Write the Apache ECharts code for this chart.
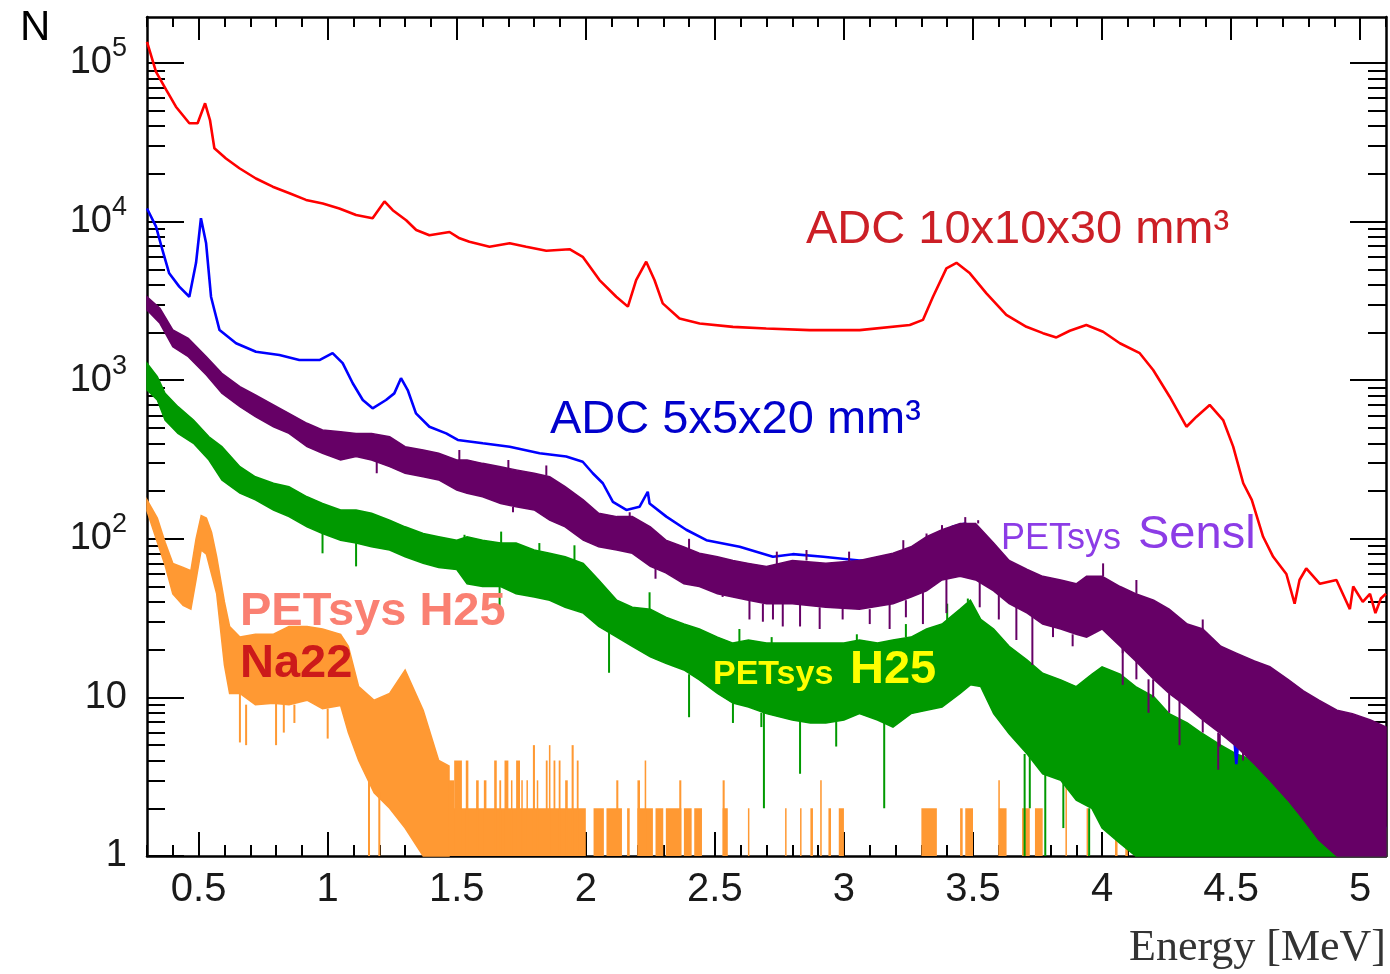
<!DOCTYPE html>
<html>
<head>
<meta charset="utf-8">
<title>Energy spectra</title>
<script src="https://cdn.jsdelivr.net/npm/echarts@6/dist/echarts.min.js"></script>
<style>
  html, body { margin: 0; padding: 0; background: #fff; }
  #chart { width: 1390px; height: 974px; }
</style>
</head>
<body>
<div id="chart"></div>
<script>
// axis ticks
const xMajorTicks = [0.5, 1, 1.5, 2, 2.5, 3, 3.5, 4, 4.5, 5];
const xMinorTicks = [0.3, 0.4, 0.6, 0.7, 0.8, 0.9, 1.1, 1.2, 1.3, 1.4, 1.6, 1.7, 1.8, 1.9,
  2.1, 2.2, 2.3, 2.4, 2.6, 2.7, 2.8, 2.9, 3.1, 3.2, 3.3, 3.4, 3.6, 3.7, 3.8, 3.9,
  4.1, 4.2, 4.3, 4.4, 4.6, 4.7, 4.8, 4.9, 5.1];
const yMajorTicks = [1, 10, 100, 1000, 10000, 100000];
const yMinorTicks = [2, 3, 4, 5, 6, 7, 8, 9, 20, 30, 40, 50, 60, 70, 80, 90,
  200, 300, 400, 500, 600, 700, 800, 900, 2000, 3000, 4000, 5000, 6000, 7000, 8000, 9000,
  20000, 30000, 40000, 50000, 60000, 70000, 80000, 90000];

// ADC 10x10x30 mm3 : [energy MeV, counts]
const adc10 = [[0.30, 136000], [0.335, 88000], [0.374, 68000], [0.412, 53000], [0.464, 41700],
  [0.496, 41700], [0.525, 55700], [0.544, 43700], [0.561, 29000], [0.606, 25000], [0.658, 21700],
  [0.722, 18700], [0.787, 16600], [0.852, 15100], [0.916, 13700], [0.981, 13000], [1.045, 12100],
  [1.110, 11000], [1.174, 10500], [1.220, 13400], [1.252, 11800], [1.304, 10200], [1.343, 8850],
  [1.394, 8200], [1.472, 8600], [1.511, 7850], [1.549, 7470], [1.627, 6950], [1.705, 7300],
  [1.769, 6950], [1.847, 6550], [1.937, 6700], [1.988, 6000], [2.053, 4280], [2.118, 3360],
  [2.163, 2910], [2.195, 4280], [2.234, 5590], [2.266, 4280], [2.298, 3050], [2.363, 2450],
  [2.441, 2280], [2.570, 2170], [2.699, 2120], [2.867, 2070], [3.061, 2070], [3.255, 2230],
  [3.306, 2400], [3.345, 3360], [3.397, 5070], [3.436, 5500], [3.488, 4720], [3.552, 3530],
  [3.629, 2580], [3.707, 2170], [3.771, 1980], [3.823, 1860], [3.875, 2050], [3.939, 2230],
  [4.004, 2020], [4.069, 1710], [4.146, 1480], [4.198, 1160], [4.262, 787], [4.327, 509],
  [4.366, 589], [4.417, 698], [4.469, 561], [4.508, 381], [4.547, 224], [4.580, 176],
  [4.624, 103], [4.663, 77], [4.714, 60], [4.746, 39], [4.765, 55], [4.791, 65], [4.844, 52],
  [4.908, 55], [4.960, 36], [4.973, 50], [5.010, 40], [5.038, 45], [5.059, 34], [5.080, 42],
  [5.10, 45]];

// ADC 5x5x20 mm3 : [energy MeV, counts]
const adc5 = [[0.30, 12100], [0.335, 9300], [0.360, 6600], [0.386, 4720], [0.425, 3890],
  [0.464, 3360], [0.490, 5500], [0.509, 10500], [0.529, 7300], [0.548, 3360], [0.561, 2770],
  [0.581, 2070], [0.645, 1710], [0.722, 1510], [0.813, 1440], [0.890, 1340], [0.968, 1340],
  [1.019, 1480], [1.058, 1280], [1.097, 957], [1.136, 750], [1.174, 665], [1.226, 750],
  [1.258, 826], [1.284, 1030], [1.310, 867], [1.342, 618], [1.394, 509], [1.459, 462],
  [1.504, 420], [1.601, 400], [1.705, 381], [1.821, 346], [1.924, 330], [1.988, 306],
  [2.027, 259], [2.066, 224], [2.105, 171], [2.157, 152], [2.208, 159], [2.240, 198],
  [2.247, 167], [2.312, 138], [2.389, 114], [2.467, 98], [2.596, 89], [2.725, 77], [2.802, 80],
  [2.920, 77], [3.060, 73], [3.190, 73], [3.320, 94], [3.420, 119], [3.470, 125], [3.550, 94],
  [3.640, 70], [3.770, 55], [3.900, 48], [4.000, 45], [4.100, 38], [4.200, 30], [4.300, 22],
  [4.400, 15], [4.500, 10], [4.520, 3.8], [4.540, 9], [4.600, 7], [4.700, 5], [4.800, 3.5],
  [4.900, 2.5], [5.000, 2], [5.100, 1.5]];

// PETsys SensL : [energy MeV, low, high]
const senslBand = [[0.30, 2770, 3360], [0.35, 2285, 2840], [0.40, 1627, 2073], [0.46, 1407, 1837],
  [0.53, 1078, 1407], [0.59, 827, 1106], [0.66, 681, 910], [0.72, 589, 807], [0.79, 509, 698],
  [0.85, 462, 618], [0.92, 381, 535], [0.98, 346, 485], [1.05, 314, 473], [1.11, 330, 462],
  [1.17, 314, 462], [1.24, 285, 440], [1.30, 259, 381], [1.37, 246, 363], [1.43, 235, 346],
  [1.50, 203, 314], [1.54, 194, 314], [1.60, 184, 299], [1.67, 167, 285], [1.73, 159, 272],
  [1.80, 152, 259], [1.86, 131, 246], [1.92, 119, 213], [1.99, 98, 176], [2.05, 89, 145],
  [2.12, 85, 138], [2.18, 81, 138], [2.25, 67, 119], [2.31, 61, 98], [2.38, 52, 89],
  [2.44, 50, 81], [2.51, 45, 77], [2.57, 43, 73], [2.63, 41, 70], [2.70, 39, 67], [2.80, 39, 73],
  [2.93, 37, 70], [3.06, 36, 73], [3.19, 39, 81], [3.26, 43, 89], [3.32, 47, 103], [3.38, 55, 114],
  [3.45, 58, 125], [3.51, 55, 125], [3.58, 47, 94], [3.64, 39, 73], [3.71, 34, 64], [3.77, 29, 58],
  [3.84, 27, 55], [3.90, 25, 52], [3.94, 24, 58], [4.00, 27, 58], [4.07, 21, 50], [4.13, 17, 45],
  [4.20, 13, 41], [4.26, 10.6, 36], [4.33, 8.7, 29], [4.39, 7.2, 27], [4.46, 5.9, 21],
  [4.52, 4.9, 19], [4.59, 3.8, 17], [4.65, 3, 15.6], [4.72, 2.25, 13], [4.78, 1.7, 11],
  [4.84, 1.26, 9.6], [4.91, 1, 8.3], [4.97, 1, 7.9], [5.04, 1, 7.2], [5.10, 1, 6.5]];
// PETsys SensL single-bin excursions : [energy MeV, from, to]
const senslSpikes = [[1.19, 314, 259], [1.51, 300, 363], [1.70, 260, 314], [1.718, 159, 147],
  [1.847, 250, 290], [2.17, 138, 147], [2.27, 67, 56], [2.40, 85, 100], [2.53, 45, 43],
  [2.634, 41, 31], [2.686, 39, 30], [2.725, 39, 31], [2.74, 67, 83], [2.763, 39, 28],
  [2.83, 39, 28], [2.855, 73, 85], [2.906, 37, 27], [2.995, 37, 31], [3.02, 72, 83],
  [3.10, 36, 29], [3.177, 39, 27], [3.23, 85, 98], [3.24, 41, 32], [3.306, 46, 29],
  [3.32, 100, 108], [3.38, 112, 122], [3.397, 56, 34], [3.47, 125, 137], [3.52, 125, 131],
  [3.526, 55, 37], [3.60, 45, 31], [3.668, 39, 23], [3.73, 34, 16], [3.81, 28, 24],
  [3.886, 25, 21], [4.004, 58, 70], [4.08, 21, 12], [4.08, 21, 19], [4.133, 45, 55],
  [4.133, 17, 13], [4.18, 13, 8], [4.198, 13, 10], [4.26, 10.6, 8], [4.30, 10, 5],
  [4.39, 27, 31], [4.39, 7.2, 6], [4.45, 6, 3.5], [4.456, 5.9, 4.9], [4.546, 4.5, 4]];

// PETsys H25 : [energy MeV, low, high]
const h25Band = [[0.30, 867, 1278], [0.34, 750, 1052], [0.37, 561, 827], [0.42, 462, 681],
  [0.48, 400, 561], [0.54, 314, 440], [0.59, 235, 381], [0.66, 194, 285], [0.72, 176, 246],
  [0.79, 152, 224], [0.85, 138, 213], [0.92, 119, 184], [0.98, 108, 167], [1.05, 98, 152],
  [1.11, 94, 152], [1.17, 89, 145], [1.24, 85, 131], [1.30, 77, 119], [1.37, 70, 108],
  [1.43, 66, 103], [1.50, 64, 98], [1.54, 52, 103], [1.60, 50, 98], [1.67, 50, 94],
  [1.73, 45, 94], [1.80, 43, 85], [1.86, 41, 81], [1.92, 37, 77], [1.99, 34, 70], [2.05, 28, 55],
  [2.12, 24, 41], [2.18, 21, 37], [2.25, 18, 36], [2.31, 16.4, 32], [2.38, 14.9, 29],
  [2.44, 12.9, 27], [2.51, 10.6, 24], [2.57, 9.2, 22], [2.63, 8.7, 23], [2.70, 7.9, 22],
  [2.80, 7.2, 22], [2.87, 6.9, 22], [2.93, 6.9, 22], [3.00, 7.2, 22], [3.06, 7.9, 23],
  [3.13, 7.2, 22], [3.19, 6.5, 23], [3.26, 7.9, 24], [3.32, 8.3, 27], [3.38, 8.7, 29],
  [3.45, 10.6, 36], [3.49, 12, 41], [3.53, 11.7, 31], [3.58, 7.9, 27], [3.64, 5.9, 21],
  [3.71, 4.4, 17.2], [3.77, 3.3, 14.2], [3.84, 3.0, 12.9], [3.90, 2.25, 11.7], [3.96, 2, 14],
  [4.00, 1.5, 15.6], [4.07, 1.2, 14], [4.13, 1, 11.7], [4.20, 1, 10.1], [4.26, 1, 7.9],
  [4.33, 1, 6.9], [4.39, 1, 5.9], [4.46, 1, 5], [4.52, 1, 4.4], [4.59, 1, 4], [4.65, 1, 3.5],
  [4.72, 1, 3], [4.78, 1, 2.5], [4.84, 1, 2.2], [4.91, 1, 2], [4.97, 1, 1.8], [5.04, 1, 1.6],
  [5.10, 1, 1.5]];
const h25Spikes = [[0.98, 108, 81], [1.11, 94, 67], [1.53, 100, 106], [1.666, 50, 36],
  [1.672, 94, 111], [1.82, 84, 94], [1.956, 73, 91], [2.09, 30, 14.3], [2.247, 36, 46],
  [2.40, 14, 7.5], [2.57, 9.2, 6.9], [2.595, 22, 27], [2.68, 8, 6.5], [2.69, 8, 2],
  [2.72, 22, 24], [2.83, 7.2, 3.3], [2.97, 7, 4.9], [3.05, 22, 25], [3.156, 7, 2],
  [3.24, 24, 29], [3.40, 29, 39], [3.48, 40, 42], [3.70, 4.4, 1], [3.72, 4.4, 2], [3.78, 3.3, 1],
  [3.85, 3, 1.5], [3.95, 2, 1]];

// Na22 with PETsys H25 : [energy MeV, low, high] then sparse bins [from, to, counts]
const na22Band = [[0.30, 150, 176], [0.34, 95, 135], [0.37, 68, 95], [0.40, 45, 70],
  [0.44, 38, 66], [0.47, 36, 63], [0.49, 55, 100], [0.51, 85, 140], [0.53, 80, 135],
  [0.55, 60, 110], [0.57, 45, 77], [0.60, 16, 40], [0.62, 10.6, 28], [0.66, 10.6, 24],
  [0.72, 9, 25], [0.79, 9.2, 25], [0.85, 9, 28], [0.92, 9.6, 28], [0.98, 8.5, 27],
  [1.05, 8.9, 25], [1.08, 6, 21], [1.12, 4, 11.7], [1.18, 2.5, 9.6], [1.24, 2, 10.6],
  [1.30, 1.5, 14.9], [1.37, 1, 8.3], [1.43, 1, 4], [1.47, 1, 3.7]];
const na22Spikes = [[0.66, 10.6, 5.2], [0.684, 9, 5], [0.80, 9.2, 5], [0.83, 9, 6],
  [0.871, 9, 6.9], [1.00, 8.5, 5.5], [1.16, 3, 1], [1.20, 2.5, 1]];
const na22Bins = [[1.47, 2.00, 2], [1.47, 1.49, 3], [1.49, 1.52, 4], [1.535, 1.545, 4],
  [1.575, 1.585, 3], [1.605, 1.615, 3], [1.645, 1.655, 4], [1.665, 1.672, 3], [1.685, 1.70, 4],
  [1.71, 1.715, 3], [1.73, 1.745, 4], [1.75, 1.755, 3], [1.77, 1.775, 3], [1.795, 1.803, 5],
  [1.81, 1.815, 3], [1.845, 1.852, 4], [1.857, 1.863, 5], [1.875, 1.882, 4], [1.895, 1.902, 4],
  [1.92, 1.93, 3], [1.945, 1.953, 5], [1.965, 1.972, 4], [2.03, 2.07, 2], [2.08, 2.14, 2],
  [2.118, 2.126, 3], [2.16, 2.17, 2], [2.20, 2.26, 2], [2.20, 2.21, 3], [2.228, 2.234, 4],
  [2.27, 2.30, 2], [2.31, 2.37, 2], [2.362, 2.37, 3], [2.38, 2.41, 2], [2.42, 2.45, 2],
  [2.53, 2.55, 2], [2.53, 2.538, 3], [2.628, 2.633, 2], [2.772, 2.776, 2], [2.83, 2.834, 2],
  [2.87, 2.88, 2], [2.908, 2.914, 3], [2.94, 2.95, 2], [2.98, 3.0, 2], [3.30, 3.36, 2],
  [3.45, 3.46, 2], [3.47, 3.50, 2], [3.60, 3.63, 2], [3.598, 3.604, 3], [3.69, 3.72, 2],
  [3.74, 3.77, 2], [3.858, 3.864, 3], [3.94, 3.944, 2], [4.05, 4.06, 2], [4.09, 4.10, 2],
  [4.30, 4.303, 2]];

const FONT = '"Liberation Sans", Arial, sans-serif';
const chart = echarts.init(document.getElementById('chart'), null, { renderer: 'canvas' });

function band(name, rows, color, z) {
  return {
    type: 'custom', name, z,
    data: rows,
    encode: { x: 0, y: [1, 2] },
    renderItem(params, api) {
      if (params.dataIndex !== 0) return null;
      const upper = rows.map((r) => api.coord([r[0], r[2]]));
      const lower = rows.map((r) => api.coord([r[0], r[1]])).reverse();
      return {
        type: 'polygon',
        shape: { points: upper.concat(lower) },
        style: { fill: color, stroke: color, lineWidth: 1.5 },
      };
    },
  };
}

function spikes(name, rows, color, z) {
  return {
    type: 'custom', name, z,
    data: rows,
    encode: { x: 0, y: [1, 2] },
    renderItem(params, api) {
      const a = api.coord([api.value(0), api.value(1)]);
      const b = api.coord([api.value(0), api.value(2)]);
      return {
        type: 'line',
        shape: { x1: a[0], y1: a[1], x2: b[0], y2: b[1] },
        style: { stroke: color, lineWidth: 2 },
      };
    },
  };
}

function bins(name, rows, color, z) {
  return {
    type: 'custom', name, z,
    data: rows,
    encode: { x: [0, 1], y: 2 },
    renderItem(params, api) {
      const a = api.coord([api.value(0), api.value(2)]);
      const b = api.coord([api.value(1), 1]);
      return {
        type: 'rect',
        shape: { x: a[0], y: a[1], width: Math.max(b[0] - a[0], 1.5), height: b[1] - a[1] },
        style: { fill: color },
      };
    },
  };
}

function line(name, rows, color, z) {
  return {
    type: 'line', name, z,
    data: rows,
    showSymbol: false,
    lineStyle: { width: 2.6, color },
    itemStyle: { color },
  };
}

function label(text, x, y, size, color, extra) {
  return {
    type: 'text', x, y, z: 100,
    style: Object.assign({ text, fontSize: size, fontFamily: FONT, fill: color, verticalAlign: 'middle' }, extra || {}),
  };
}

const frame = { show: true, lineStyle: { color: '#000', width: 2.5 } };
const tick = (values, length) => ({
  show: true, inside: true, length, customValues: values,
  lineStyle: { color: '#000', width: 2 },
});
const xBase = { type: 'value', min: 0.3, max: 5.1, splitLine: { show: false } };
const yBase = { type: 'log', logBase: 10, min: 1, max: 195000, splitLine: { show: false } };

chart.setOption({
  animation: false,
  backgroundColor: '#fff',
  grid: { left: 147, right: 4, top: 17, bottom: 118 },
  xAxis: [
    Object.assign({}, xBase, {
      position: 'bottom', axisLine: frame, axisTick: tick(xMajorTicks, 24),
      axisLabel: {
        customValues: xMajorTicks, fontSize: 40, fontFamily: FONT, color: '#1a1a1a', margin: 14,
        formatter: (v) => String(v),
      },
    }),
    Object.assign({}, xBase, {
      position: 'bottom', axisLine: { show: false }, axisTick: tick(xMinorTicks, 11),
      axisLabel: { show: false },
    }),
    Object.assign({}, xBase, {
      position: 'top', axisLine: frame, axisTick: tick(xMajorTicks, 23), axisLabel: { show: false },
    }),
    Object.assign({}, xBase, {
      position: 'top', axisLine: { show: false }, axisTick: tick(xMinorTicks, 10),
      axisLabel: { show: false },
    }),
  ],
  yAxis: [
    Object.assign({}, yBase, {
      position: 'left', axisLine: frame, axisTick: tick(yMajorTicks, 37),
      axisLabel: {
        customValues: yMajorTicks, margin: 20, color: '#1a1a1a',
        formatter: (v) => (v < 100 ? '{b|' + v + '}' : '{b|10}{s|' + Math.round(Math.log10(v)) + '}'),
        rich: {
          b: { fontSize: 38, fontFamily: FONT, color: '#1a1a1a' },
          s: { fontSize: 27, fontFamily: FONT, color: '#1a1a1a', padding: [0, 0, 28, 0] },
        },
      },
    }),
    Object.assign({}, yBase, {
      position: 'left', axisLine: { show: false }, axisTick: tick(yMinorTicks, 18),
      axisLabel: { show: false },
    }),
    Object.assign({}, yBase, {
      position: 'right', axisLine: frame, axisTick: tick(yMajorTicks, 36), axisLabel: { show: false },
    }),
    Object.assign({}, yBase, {
      position: 'right', axisLine: { show: false }, axisTick: tick(yMinorTicks, 18),
      axisLabel: { show: false },
    }),
  ],
  series: [
    band('Na22 PETsys H25', na22Band, '#ff9933', 1),
    spikes('Na22 spikes', na22Spikes, '#ff9933', 1),
    bins('Na22 bins', na22Bins, '#ff9933', 1),
    band('PETsys H25', h25Band, '#009900', 2),
    spikes('PETsys H25 spikes', h25Spikes, '#009900', 2),
    line('ADC 5x5x20', adc5, '#0000ff', 3),
    band('PETsys SensL', senslBand, '#660066', 4),
    spikes('PETsys SensL spikes', senslSpikes, '#660066', 4),
    line('ADC 10x10x30', adc10, '#ff0000', 5),
  ],
  graphic: {
    elements: [
      label('N', 20, 28, 42, '#000'),
      label('Energy [MeV]', 1386, 948, 44, '#333',
        { fontFamily: '"Liberation Serif", "Times New Roman", serif', align: 'right' }),
      label('ADC 10x10x30 mm³', 806, 230, 47, '#cc1f26'),
      label('ADC 5x5x20 mm³', 550, 420, 47, '#0000cc'),
      label('PETsys', 1001, 539, 36, '#8c3ce6'),
      label('Sensl', 1138, 535, 47, '#8c3ce6'),
      label('PETsys H25', 240, 612, 47, '#fa8072', { fontWeight: 'bold' }),
      label('Na22', 240, 664, 47, '#cc1a1a', { fontWeight: 'bold' }),
      label('PETsys', 713, 675, 34, '#ffff00', { fontWeight: 'bold' }),
      label('H25', 850, 670, 47, '#ffff00', { fontWeight: 'bold' }),
    ],
  },
});
</script>
</body>
</html>
